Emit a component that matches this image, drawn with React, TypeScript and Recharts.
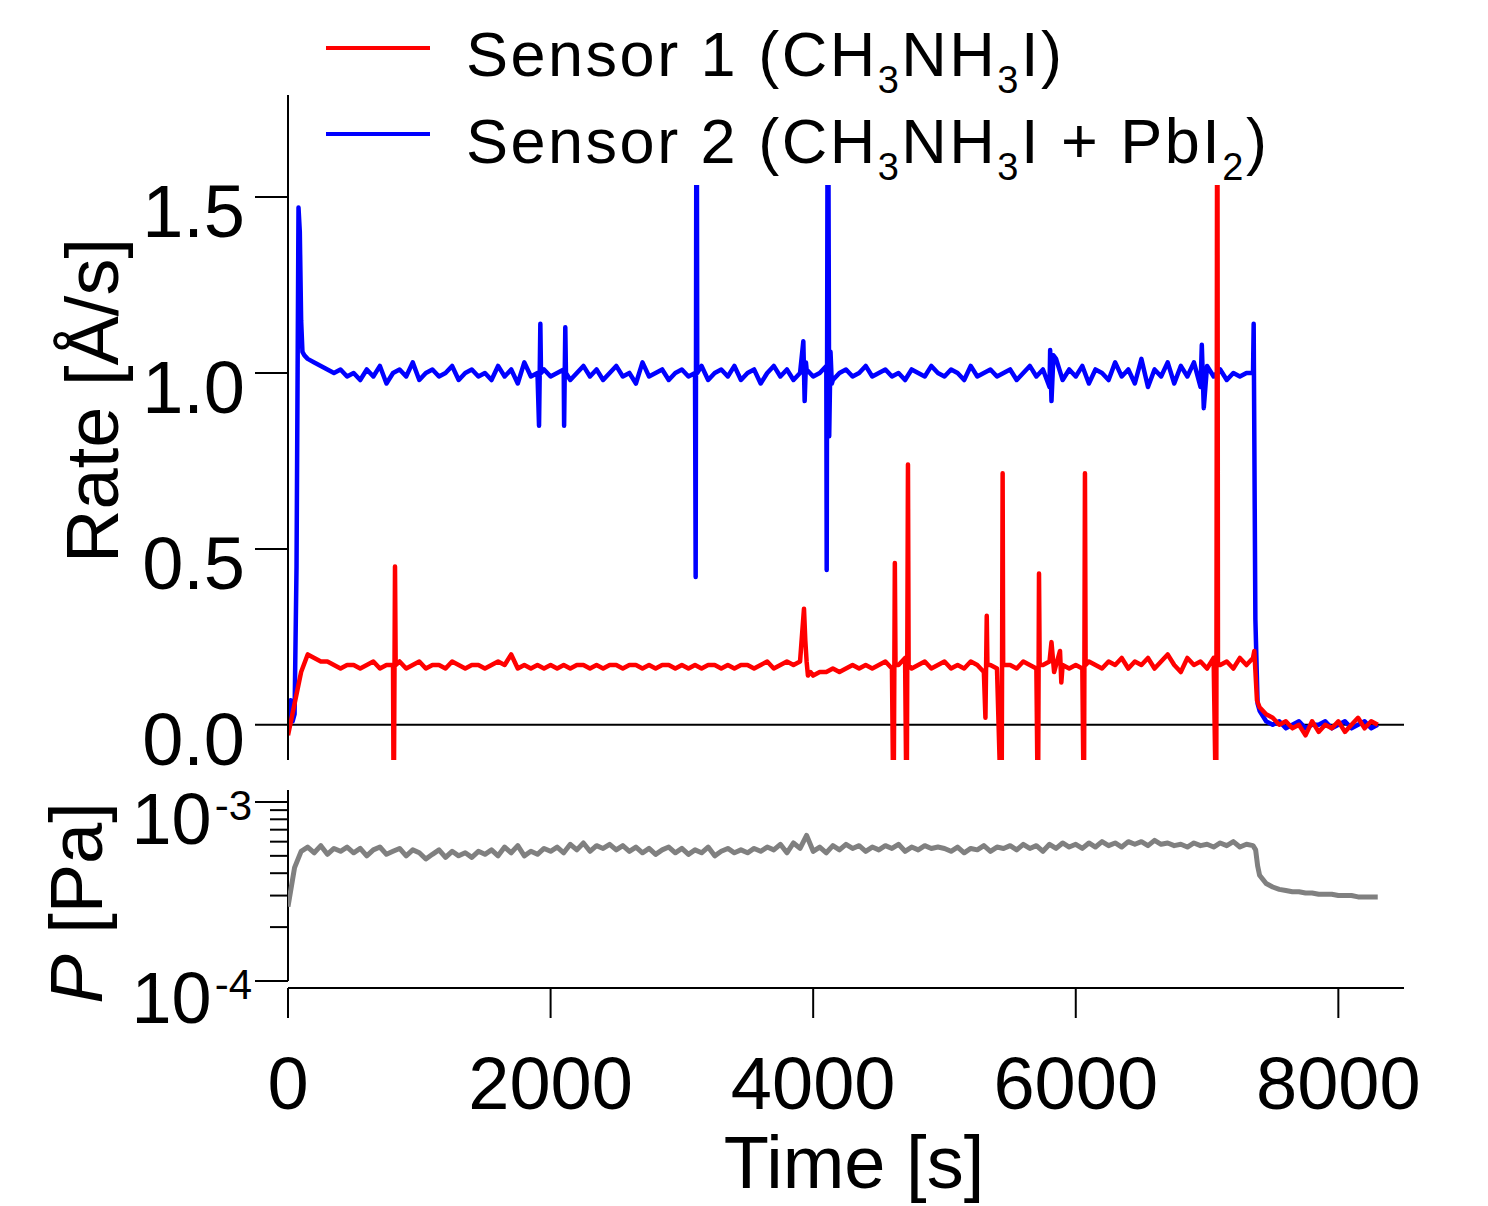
import React from "react";
import { Legend, Line, LineChart, ReferenceLine, XAxis, YAxis } from "recharts";

const FONT = '"Liberation Sans", Arial, sans-serif';

// deposition-rate samples, one every 50 s from t = 0
const SAMPLE_STEP = 50;

const sensor1Rate = [
  -0.03, 0.06, 0.15, 0.2, 0.19, 0.18, 0.18, 0.17, 0.16, 0.17,
  0.17, 0.16, 0.17, 0.18, 0.16, 0.17, 0.17, 0.18, 0.16, 0.17,
  0.18, 0.16, 0.17, 0.17, 0.16, 0.18, 0.17, 0.16, 0.17, 0.17,
  0.16, 0.17, 0.18, 0.17, 0.2, 0.16, 0.17, 0.16, 0.17, 0.16,
  0.17, 0.16, 0.17, 0.16, 0.17, 0.17, 0.16, 0.17, 0.16, 0.17,
  0.17, 0.16, 0.17, 0.17, 0.16, 0.17, 0.16, 0.17, 0.17, 0.16,
  0.17, 0.16, 0.17, 0.16, 0.17, 0.17, 0.16, 0.17, 0.16, 0.17,
  0.17, 0.16, 0.17, 0.18, 0.16, 0.17, 0.18, 0.17, 0.18, 0.18,
  0.14, 0.15, 0.15, 0.16, 0.15, 0.16, 0.17, 0.16, 0.17, 0.16,
  0.17, 0.18, 0.16, 0.17, 0.19, 0.16, 0.17, 0.18, 0.16, 0.17,
  0.18, 0.16, 0.17, 0.16, 0.18, 0.17, 0.15, 0.17, 0.16, 0.17,
  0.17, 0.16, 0.18, 0.17, 0.16, 0.17, 0.18, 0.17, 0.17, 0.16,
  0.17, 0.16, 0.18, 0.17, 0.16, 0.18, 0.17, 0.19, 0.16, 0.18,
  0.17, 0.19, 0.16, 0.18, 0.2, 0.17, 0.15, 0.19, 0.17, 0.18,
  0.16, 0.19, 0.17, 0.18, 0.16, 0.19, 0.17, 0.19, 0.05, 0.03,
  0.02, 0.0, 0.01, -0.01, 0.0, -0.03, 0.01, -0.02, 0.0, -0.01,
  0.01, -0.02, 0.0, 0.02, -0.01, 0.01, 0.0,
];

const sensor2Rate = [
  0.0, 0.03, 1.15, 1.04, 1.03, 1.02, 1.01, 1.0, 1.01, 0.99,
  1.0, 0.98, 1.01, 0.99, 1.02, 0.97, 1.0, 1.01, 0.99, 1.03,
  0.98, 1.0, 1.01, 0.99, 1.0, 1.02, 0.98, 1.0, 1.01, 0.99,
  1.0, 0.98, 1.02, 0.99, 1.01, 0.97, 1.03, 0.99, 1.0, 1.01,
  0.99, 1.0, 1.01, 0.98, 1.0, 1.02, 0.99, 1.01, 0.98, 1.0,
  1.02, 0.99, 1.0, 0.97, 1.03, 0.99, 1.0, 1.01, 0.98, 1.0,
  1.01, 0.99, 1.0, 1.02, 0.98, 1.0, 1.01, 0.99, 1.02, 0.98,
  1.0, 1.01, 0.97, 1.0, 1.02, 0.99, 1.01, 0.98, 1.0, 1.01,
  0.99, 1.0, 1.02, 0.98, 1.0, 1.01, 0.99, 1.0, 1.02, 0.99,
  1.0, 1.01, 0.99, 1.0, 0.98, 1.01, 1.0, 0.99, 1.02, 1.0,
  0.99, 1.01, 1.0, 0.98, 1.02, 0.99, 1.0, 1.01, 0.99, 1.0,
  1.01, 0.98, 1.0, 1.02, 0.99, 1.01, 0.96, 1.04, 0.98, 1.01,
  0.99, 1.02, 0.97, 1.01, 1.0, 0.98, 1.03, 0.99, 1.01, 0.97,
  1.04, 0.96, 1.01, 0.99, 1.03, 0.97, 1.02, 0.99, 1.03, 0.96,
  1.02, 0.99, 1.01, 0.98, 1.0, 0.99, 1.0, 1.0, 0.04, 0.01,
  0.0, 0.01, -0.01, 0.0, 0.01, -0.01, 0.0, 0.0, 0.01, -0.01,
  0.0, 0.01, -0.01, 0.0, 0.01, -0.01, 0.0,
];

// short glitches read between the 50 s samples: [time s, rate Å/s]
const sensor1Glitches = [
  [805, -0.3], [815, 0.45], [820, 0.17],
  [3930, 0.33], [3940, 0.24], [3960, 0.14], [3980, 0.15],
  [4612, -0.3], [4622, 0.46], [4627, 0.17],
  [4712, -0.3], [4722, 0.74], [4727, 0.17],
  [5312, 0.02], [5322, 0.31], [5327, 0.17],
  [5435, -0.3], [5443, 0.715], [5447, 0.17],
  [5712, -0.3], [5720, 0.43], [5725, 0.17],
  [5815, 0.235], [5835, 0.15], [5880, 0.21], [5890, 0.12],
  [6062, -0.3], [6070, 0.715], [6075, 0.17],
  [7070, -0.3], [7078, 2.2], [7083, 0.17],
  [7360, 0.21], [7380, 0.07],
];

const sensor2Glitches = [
  [20, 0.07], [35, 0.01], [65, 0.45], [80, 1.47], [90, 1.4], [110, 1.06], [125, 1.05],
  [1912, 0.85], [1922, 1.14], [1927, 1.0],
  [2103, 0.85], [2112, 1.13], [2117, 1.0],
  [3105, 0.42], [3112, 2.2], [3117, 1.0],
  [3925, 1.09], [3935, 0.92], [3945, 1.03],
  [4103, 0.44], [4112, 2.2], [4122, 0.82], [4132, 1.06], [4142, 0.97],
  [5805, 1.065], [5815, 0.92], [5830, 1.05],
  [6960, 1.08], [6975, 0.9],
  [7355, 1.14], [7368, 0.3], [7385, 0.06],
];

// chamber pressure [Pa], same 50 s sampling
const pressure = [
  2.6e-4, 4.3e-4, 5.3e-4, 5.6e-4, 5.2e-4, 5.7e-4, 5.1e-4, 5.5e-4, 5.3e-4, 5.6e-4,
  5.2e-4, 5.5e-4, 5.0e-4, 5.4e-4, 5.6e-4, 5.1e-4, 5.3e-4, 5.5e-4, 5.0e-4, 5.4e-4,
  5.2e-4, 4.8e-4, 5.1e-4, 5.4e-4, 4.9e-4, 5.3e-4, 5.0e-4, 5.2e-4, 4.9e-4, 5.3e-4,
  5.1e-4, 5.4e-4, 5.0e-4, 5.6e-4, 5.2e-4, 5.7e-4, 5.0e-4, 5.3e-4, 5.1e-4, 5.5e-4,
  5.3e-4, 5.6e-4, 5.2e-4, 5.8e-4, 5.4e-4, 5.9e-4, 5.3e-4, 5.7e-4, 5.5e-4, 5.8e-4,
  5.4e-4, 5.7e-4, 5.3e-4, 5.6e-4, 5.2e-4, 5.5e-4, 5.1e-4, 5.4e-4, 5.6e-4, 5.2e-4,
  5.5e-4, 5.1e-4, 5.4e-4, 5.2e-4, 5.6e-4, 5.0e-4, 5.3e-4, 5.5e-4, 5.2e-4, 5.4e-4,
  5.2e-4, 5.5e-4, 5.3e-4, 5.6e-4, 5.4e-4, 5.8e-4, 5.2e-4, 5.9e-4, 5.5e-4, 6.5e-4,
  5.3e-4, 5.6e-4, 5.2e-4, 5.7e-4, 5.4e-4, 5.8e-4, 5.5e-4, 5.7e-4, 5.3e-4, 5.6e-4,
  5.4e-4, 5.7e-4, 5.5e-4, 5.8e-4, 5.3e-4, 5.6e-4, 5.4e-4, 5.7e-4, 5.5e-4, 5.6e-4,
  5.5e-4, 5.3e-4, 5.6e-4, 5.2e-4, 5.5e-4, 5.4e-4, 5.7e-4, 5.3e-4, 5.6e-4, 5.5e-4,
  5.7e-4, 5.4e-4, 5.8e-4, 5.5e-4, 5.7e-4, 5.3e-4, 5.8e-4, 5.5e-4, 5.9e-4, 5.6e-4,
  5.8e-4, 5.5e-4, 5.9e-4, 5.6e-4, 6.0e-4, 5.7e-4, 5.9e-4, 5.6e-4, 6.0e-4, 5.8e-4,
  6.0e-4, 5.7e-4, 6.1e-4, 5.8e-4, 5.9e-4, 5.7e-4, 5.8e-4, 5.6e-4, 5.9e-4, 5.7e-4,
  5.8e-4, 5.6e-4, 5.9e-4, 5.7e-4, 6.0e-4, 5.6e-4, 5.8e-4, 5.7e-4, 3.9e-4, 3.5e-4,
  3.35e-4, 3.25e-4, 3.2e-4, 3.15e-4, 3.15e-4, 3.1e-4, 3.1e-4, 3.05e-4, 3.05e-4, 3.05e-4,
  3.0e-4, 3.0e-4, 3.0e-4, 2.95e-4, 2.95e-4, 2.95e-4, 2.95e-4,
];

const pressureGlitches = [
  [7370, 5.4e-4], [7385, 4.4e-4],
];

const seriesNames = ["Sensor 1 (CH3NH3I)", "Sensor 2 (CH3NH3I + PbI2)"];
const timeTicks = [0, 2000, 4000, 6000, 8000];
const rateTicks = [0, 0.5, 1.0, 1.5];
const pressureTicks = [1e-4, 2e-4, 3e-4, 4e-4, 5e-4, 6e-4, 7e-4, 8e-4, 9e-4, 1e-3];

const timeDomain = [0, 8500];
const rateDomain = [-0.1, 1.79];
const pressureDomain = [9.14e-5, 1.166e-3];

type Pt = { t: number; v: number };

function buildSeries(base: number[], glitches: number[][]): Pt[] {
  const pts: Pt[] = base.map((v, i) => ({ t: i * SAMPLE_STEP, v }));
  glitches.forEach(([t, v]) => pts.push({ t, v }));
  return pts.sort((a, b) => a.t - b.t);
}

const sensor1Series = buildSeries(sensor1Rate, sensor1Glitches);
const sensor2Series = buildSeries(sensor2Rate, sensor2Glitches);
const pressureSeries = buildSeries(pressure, pressureGlitches);

// CH3 -> CH<sub>3</sub> inside an svg <text>
function formula(name: string) {
  const parts = name.split(/(?<=[A-Za-z])(\d+)/);
  return parts.map((part, i) => {
    if (i % 2 === 1) {
      return (
        <tspan key={i} fontSize={38} dy={17}>
          {part}
        </tspan>
      );
    }
    return (
      <tspan key={i} dy={i === 0 ? 0 : -17}>
        {part}
      </tspan>
    );
  });
}

function RateTick({ x, y, payload }: any) {
  return (
    <g>
      <line x1={x - 33} x2={x} y1={y} y2={y} stroke="#000" strokeWidth={2} />
      <text x={x - 43} y={y + 40} textAnchor="end" fontSize={74} fontFamily={FONT} fill="#000">
        {Number(payload.value).toFixed(1)}
      </text>
    </g>
  );
}

function PressureTick({ x, y, payload }: any) {
  const exp = Math.log10(payload.value);
  const major = Math.abs(exp - Math.round(exp)) < 1e-6;
  return (
    <g>
      <line x1={x - (major ? 33 : 18)} x2={x} y1={y} y2={y} stroke="#000" strokeWidth={2} />
      {major && (
        <text x={x - 36} y={y + 42} textAnchor="end" fontSize={72} fontFamily={FONT} fill="#000">
          10
          <tspan fontSize={42} dx={3} dy={-24}>
            {`-${Math.abs(Math.round(exp))}`}
          </tspan>
        </text>
      )}
    </g>
  );
}

function RateTitle({ viewBox }: any) {
  const vb = viewBox ?? { x: 0, y: 95, width: 288, height: 665 };
  const cx = vb.x + 118;
  const cy = vb.y + vb.height / 2 - 27;
  return (
    <text
      transform={`translate(${cx},${cy}) rotate(-90)`}
      textAnchor="middle"
      fontSize={74}
      fontFamily={FONT}
      fill="#000"
    >
      Rate [Å/s]
    </text>
  );
}

function PressureTitle({ viewBox }: any) {
  const vb = viewBox ?? { x: 0, y: 20, width: 288, height: 198 };
  const cx = vb.x + 102;
  const cy = vb.y + vb.height / 2 + 14;
  return (
    <text
      transform={`translate(${cx},${cy}) rotate(-90)`}
      textAnchor="middle"
      fontSize={74}
      fontFamily={FONT}
      fill="#000"
    >
      <tspan fontStyle="italic">P</tspan> [Pa]
    </text>
  );
}

function TimeTitle({ viewBox }: any) {
  const vb = viewBox ?? { x: 288, y: 218, width: 1116, height: 150 };
  return (
    <text
      x={vb.x + vb.width / 2 + 8}
      y={vb.y + 200}
      textAnchor="middle"
      fontSize={74}
      fontFamily={FONT}
      fill="#000"
    >
      Time [s]
    </text>
  );
}

function SensorLegend({ payload }: any) {
  const items = [...(payload ?? [])].sort((a, b) => String(a.value).localeCompare(String(b.value)));
  return (
    <svg width={1000} height={205}>
      <rect width={1000} height={185} fill="#fff" />
      {items.map((item, i) => (
        <g key={item.value}>
          <line x1={26} x2={130} y1={48 + i * 86} y2={48 + i * 86} stroke={item.color} strokeWidth={4} />
          <text x={166} y={76 + i * 87} fontSize={63} letterSpacing={2.5} fontFamily={FONT} fill="#000">
            {formula(String(item.value))}
          </text>
        </g>
      ))}
    </svg>
  );
}

export default function App() {
  return (
    <div style={{ position: "absolute", left: 0, top: 0, width: 1488, height: 1206, background: "#fff" }}>
      <div style={{ position: "absolute", left: 0, top: 0 }}>
        <LineChart width={1488} height={780} margin={{ top: 95, right: 84, bottom: 20, left: 0 }}>
          <XAxis type="number" dataKey="t" domain={timeDomain} allowDataOverflow hide />
          <YAxis
            type="number"
            domain={rateDomain}
            allowDataOverflow
            ticks={rateTicks}
            interval={0}
            width={288}
            tickSize={0}
            tickMargin={0}
            tickLine={false}
            tick={<RateTick />}
            axisLine={{ stroke: "#000", strokeWidth: 2 }}
            label={<RateTitle />}
          />
          <ReferenceLine y={0} stroke="#000" strokeWidth={2} />
          <Line
            data={sensor2Series}
            dataKey="v"
            name={seriesNames[1]}
            stroke="#0000ff"
            strokeWidth={4.5}
            strokeLinejoin="round"
            dot={false}
            type="linear"
            isAnimationActive={false}
          />
          <Line
            data={sensor1Series}
            dataKey="v"
            name={seriesNames[0]}
            stroke="#ff0000"
            strokeWidth={4.5}
            strokeLinejoin="round"
            dot={false}
            type="linear"
            isAnimationActive={false}
          />
          <Legend
            layout="horizontal"
            verticalAlign="middle"
            align="center"
            content={<SensorLegend />}
            wrapperStyle={{ top: 0, left: 300, width: 1000, height: 185 }}
          />
        </LineChart>
      </div>
      <div style={{ position: "absolute", left: 0, top: 770 }}>
        <LineChart width={1488} height={436} margin={{ top: 20, right: 84, bottom: 68, left: 0 }}>
          <XAxis
            type="number"
            dataKey="t"
            domain={timeDomain}
            allowDataOverflow
            ticks={timeTicks}
            interval={0}
            height={150}
            tickSize={30}
            tickMargin={38}
            tick={{ fill: "#000", fontSize: 74, fontFamily: FONT }}
            stroke="#000"
            axisLine={{ stroke: "#000", strokeWidth: 2 }}
            tickLine={{ stroke: "#000", strokeWidth: 2 }}
            label={<TimeTitle />}
          />
          <YAxis
            type="number"
            scale="log"
            domain={pressureDomain}
            allowDataOverflow
            ticks={pressureTicks}
            interval={0}
            width={288}
            tickSize={0}
            tickMargin={0}
            tickLine={false}
            tick={<PressureTick />}
            axisLine={false}
            label={<PressureTitle />}
          />
          <ReferenceLine
            segment={[
              { x: 0, y: pressureTicks[0] },
              { x: 0, y: pressureDomain[1] },
            ]}
            stroke="#000"
            strokeWidth={2}
            ifOverflow="visible"
          />
          <Line
            data={pressureSeries}
            dataKey="v"
            stroke="#808080"
            strokeWidth={5}
            strokeLinejoin="round"
            dot={false}
            type="linear"
            isAnimationActive={false}
          />
        </LineChart>
      </div>
    </div>
  );
}
